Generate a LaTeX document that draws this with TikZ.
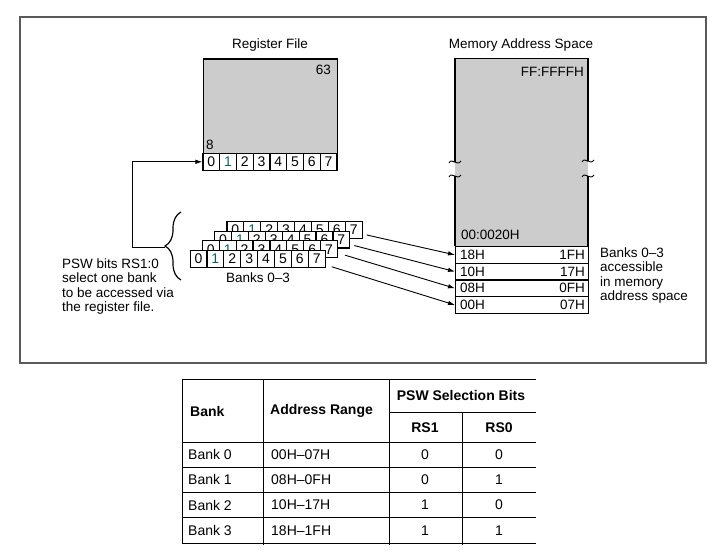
\documentclass[tikz,border=0pt]{standalone}
\usepackage{fontspec}
\setmainfont{Liberation Sans}
\usetikzlibrary{arrows.meta,calc,decorations.pathreplacing}
\definecolor{tealish}{RGB}{25,95,95}
\definecolor{framegray}{RGB}{90,90,90}
\begin{document}
\begin{tikzpicture}[x=1pt,y=-1pt,
  lbl/.style={inner sep=0pt, font=\fontsize{13.5}{14.3}\selectfont},
  tbl/.style={inner sep=0pt, font=\fontsize{14}{16}\selectfont},
  tblb/.style={inner sep=0pt, font=\fontsize{14}{16}\selectfont\bfseries},
  bitcell/.style={draw, line width=1.1pt, fill=white, minimum width=16.8pt, minimum height=16.7pt, inner sep=0pt, font=\fontsize{14}{15}\selectfont},
  grayblk/.style={fill=gray!40, inner sep=0pt},
  memrow/.style={draw, line width=1.1pt, fill=white, minimum width=133pt, minimum height=16.7pt, inner sep=0pt, anchor=north west},
  arr/.style={-{Latex[length=7pt,width=4.5pt]}, line width=0.9pt},
  tline/.style={line width=1pt}
]
\useasboundingbox (0,0) rectangle (727,559);
% outer frame
\draw[draw=framegray, line width=1.4pt] (20,17) rectangle (706,363);

% titles
\node[lbl] (rftitle) at (270,45) {Register File};
\node[lbl] (memtitle) at (521,45) {Memory Address Space};

% register file
\node[grayblk, draw, line width=1.2pt, minimum width=134pt, minimum height=95pt, anchor=north west] (rf) at (203,58.5) {};
\node[lbl, anchor=east] (rf63) at (331,70) {63};
\node[lbl, anchor=west] (rf8) at (206,145) {8};
\foreach \i in {0,...,7}
  \node[bitcell] (r\i) at ({203+16.75*(\i+0.5)},161.8) {\ifnum\i=1 \textcolor{tealish}{1}\else\i\fi};

% memory address space
\node[grayblk, minimum width=133pt, minimum height=187.5pt, anchor=north west] (mem) at (455,58.5) {};
\draw[line width=1.2pt] (455,162) -- (455,58.5) -- (588,58.5) -- (588,161);
\draw[line width=1.2pt] (455,176) -- (455,246);
\draw[line width=1.2pt] (588,176) -- (588,246);
\foreach \cx/\cy in {455/162,455/176,588/161,588/176}
  \draw[line width=0.9pt] (\cx-6,\cy+1) .. controls (\cx-3,\cy-5) and (\cx+2,\cy+5) .. (\cx+6,\cy-1);
\node[lbl, anchor=east] (memtop) at (584,72) {FF:FFFFH};
\node[lbl, anchor=west] (membot) at (461,235) {00:0020H};
\foreach \nm/\rl/\rr [count=\j from 0] in {18/18H/1FH,10/10H/17H,08/08H/0FH,00/00H/07H} {
  \node[memrow] (mem\nm) at (455,{246+16.7*\j}) {};
  \node[lbl, anchor=west] (mem\nm l) at ($(mem\nm.west)+(5,0)$) {\rl};
  \node[lbl, anchor=east] (mem\nm r) at ($(mem\nm.east)+(-4,0)$) {\rr};
}
\node[lbl, anchor=north west, align=left] (acc) at (600,247.5) {Banks 0–3\\accessible\\in memory\\address space};

% bank stacks
\foreach \k in {3,2,1,0} {
  \foreach \i in {0,...,7}
    \node[bitcell] (b\k-\i) at ({190+12.3*\k+16.9*(\i+0.5)},{250.5-9.6*\k+8.35}) {\ifnum\i=1 \textcolor{tealish}{1}\else\i\fi};
}
\node[lbl] (banks) at (258,278) {Banks 0–3};

% arrows from banks to memory
\draw[arr] ($(b3-7.south east)+(4,-4)$) -- (mem18.west);
\draw[arr] ($(b2-7.south east)+(4,-3)$) -- (mem10.west);
\draw[arr] ($(b1-7.south east)+(7,-3)$) -- (mem08.west);
\draw[arr] ($(b0-7.south east)+(6,-1)$) -- (mem00.west);

% brace and selection arrow
\coordinate (brbot) at (181,280);
\coordinate (brtop) at (181,212);
\draw[line width=1.2pt, decorate, decoration={brace, amplitude=16pt}] (brbot) -- (brtop);
\coordinate (bt) at (165,247);
\coordinate (bend) at (132,247);
\draw[arr] (bt) -- (bend) |- (r0.west);
\node[lbl, anchor=north west, align=left] (psw) at (62,258.5) {PSW bits RS1:0\\select one bank\\to be accessed via\\the register file.};

% table
\draw[tline] (182,379) -- (536,379);
\draw[tline] (389,412) -- (536,412);
\draw[tline] (182,442) -- (536,442);
\draw[tline] (182,467.25) -- (536,467.25);
\draw[tline] (182,492.5) -- (536,492.5);
\draw[tline] (182,517.75) -- (536,517.75);
\draw[tline] (182,543) -- (536,543);
\draw[tline] (182,379) -- (182,543);
\draw[tline] (263,379) -- (263,545);
\draw[tline] (389,379) -- (389,545);
\draw[tline] (462,412) -- (462,545);
\node[tblb, anchor=west] (hbank) at (190,411) {Bank};
\node[tblb, anchor=west] (haddr) at (270,411) {Address Range};
\node[tblb] (hpsw) at (461,395) {PSW Selection Bits};
\node[tblb] (hrs1) at (425,428) {RS1};
\node[tblb] (hrs0) at (499,428) {RS0};
\foreach \b/\ar/\ra/\rb [count=\j from 0] in {0/00H–07H/0/0,1/08H–0FH/0/1,2/10H–17H/1/0,3/18H–1FH/1/1} {
  \node[tbl, anchor=west] (tb\j) at (188,{454.6+25.25*\j}) {Bank \b};
  \node[tbl, anchor=west] (ta\j) at (271,{454.6+25.25*\j}) {\ar};
  \node[tbl] (tr1\j) at (425,{454.6+25.25*\j}) {\ra};
  \node[tbl] (tr0\j) at (499,{454.6+25.25*\j}) {\rb};
}
\end{tikzpicture}
\end{document}
